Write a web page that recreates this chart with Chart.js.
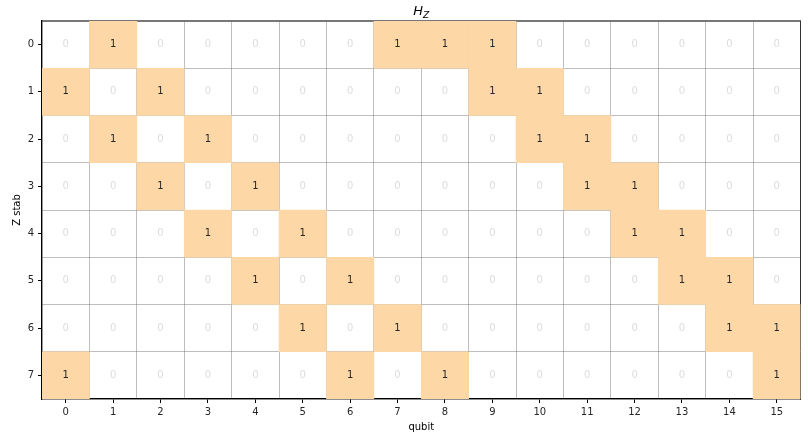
<!DOCTYPE html>
<html>
<head>
<meta charset="utf-8">
<script src="https://cdn.jsdelivr.net/npm/chart.js@4/dist/chart.umd.min.js"></script>
<style>
  html, body { margin: 0; padding: 0; background: #fff; }
  #wrap { width: 808px; height: 440px; position: relative; }
</style>
</head>
<body>
<div id="wrap"><canvas id="hz"></canvas></div>
<script>
// Parity-check matrix H_Z: one row per Z stabilizer, one column per qubit
const qubits = ['0','1','2','3','4','5','6','7','8','9','10','11','12','13','14','15'];
const stabs = [0, 1, 2, 3, 4, 5, 6, 7];

const hz0 = [0,1,0,0,0,0,0,1,1,1,0,0,0,0,0,0];
const hz1 = [1,0,1,0,0,0,0,0,0,1,1,0,0,0,0,0];
const hz2 = [0,1,0,1,0,0,0,0,0,0,1,1,0,0,0,0];
const hz3 = [0,0,1,0,1,0,0,0,0,0,0,1,1,0,0,0];
const hz4 = [0,0,0,1,0,1,0,0,0,0,0,0,1,1,0,0];
const hz5 = [0,0,0,0,1,0,1,0,0,0,0,0,0,1,1,0];
const hz6 = [0,0,0,0,0,1,0,1,0,0,0,0,0,0,1,1];
const hz7 = [1,0,0,0,0,0,1,0,1,0,0,0,0,0,0,1];
const hzRows = [hz0, hz1, hz2, hz3, hz4, hz5, hz6, hz7];

const ONE_FILL = '#fdd8a6';
const FONT = 'DejaVu Sans';

// each matrix entry is a floating bar spanning one row band in one qubit column
const datasets = stabs.map((s, r) => ({
  label: 'stab ' + s,
  data: qubits.map((q, c) => ({ x: q, y: [s - 0.5, s + 0.5], v: hzRows[r][c] })),
  backgroundColor: ctx => (ctx.raw && ctx.raw.v ? ONE_FILL : 'rgba(255,255,255,0)'),
  borderWidth: 0,
  grouped: false,
  barPercentage: 1,
  categoryPercentage: 1
}));

// writes each entry's value in the middle of its cell
const cellText = {
  id: 'cellText',
  afterDatasetsDraw(chart) {
    const ctx = chart.ctx;
    ctx.save();
    ctx.font = '10px "' + FONT + '"';
    ctx.textAlign = 'center';
    ctx.textBaseline = 'middle';
    chart.data.datasets.forEach((ds, di) => {
      const meta = chart.getDatasetMeta(di);
      meta.data.forEach((bar, i) => {
        const v = ds.data[i].v;
        ctx.fillStyle = v ? '#262626' : '#dcdcdc';
        ctx.fillText(String(v), bar.x, (bar.y + bar.base) / 2);
      });
    });
    ctx.restore();
  }
};

// italic title H with subscript Z, centred over the plot
const subTitle = {
  id: 'subTitle',
  afterDraw(chart) {
    const ctx = chart.ctx;
    const a = chart.chartArea;
    const cx = (a.left + a.right) / 2;
    ctx.save();
    ctx.fillStyle = '#000';
    ctx.textBaseline = 'alphabetic';
    ctx.font = 'italic 13px "' + FONT + '"';
    const wH = ctx.measureText('H').width;
    ctx.font = 'italic 9px "' + FONT + '"';
    const wZ = ctx.measureText('Z').width;
    const x0 = cx - (wH + wZ) / 2;
    ctx.font = 'italic 13px "' + FONT + '"';
    ctx.textAlign = 'left';
    ctx.fillText('H', x0, a.top - 6);
    ctx.font = 'italic 9px "' + FONT + '"';
    ctx.fillText('Z', x0 + wH, a.top - 3);
    ctx.restore();
  }
};

const intTicks = scale => { scale.ticks = stabs.map(v => ({ value: v })); };

new Chart(document.getElementById('hz'), {
  type: 'bar',
  data: { labels: qubits, datasets },
  plugins: [cellText, subTitle],
  options: {
    responsive: true,
    maintainAspectRatio: false,
    animation: false,
    layout: { padding: { top: 21, right: 7.5, left: 0, bottom: 0 } },
    plugins: { legend: { display: false }, tooltip: { enabled: false }, title: { display: false } },
    scales: {
      x: {
        type: 'category',
        position: 'bottom',
        offset: true,
        z: 1,
        grid: { offset: false, drawOnChartArea: false, drawTicks: true, tickLength: 4, tickColor: '#000', tickWidth: 1 },
        border: { display: true, color: '#000', width: 1.2 },
        ticks: { color: '#262626', font: { family: FONT, size: 10 }, padding: 3, maxRotation: 0, autoSkip: false },
        title: { display: true, text: 'qubit', color: '#000', font: { family: FONT, size: 10 }, padding: { top: 1, bottom: 7 } },
        afterFit: s => { s.height = 41; }
      },
      xg: {
        type: 'category',
        position: 'top',
        offset: true,
        z: 1,
        grid: { offset: true, drawOnChartArea: true, drawTicks: false, color: 'rgba(110,110,110,0.45)', lineWidth: 1 },
        border: { display: true, color: '#777', width: 2 },
        ticks: { display: false },
        afterFit: s => { s.height = 0; }
      },
      y: {
        type: 'linear',
        position: 'left',
        reverse: true,
        min: -0.5,
        max: 7.5,
        z: 1,
        afterBuildTicks: intTicks,
        grid: { drawOnChartArea: false, drawTicks: true, tickLength: 4, tickColor: '#000', tickWidth: 1 },
        border: { display: true, color: '#000', width: 1.2 },
        ticks: { color: '#262626', font: { family: FONT, size: 10 }, padding: 4 },
        title: { display: true, text: 'Z stab', color: '#000', font: { family: FONT, size: 10 }, padding: { top: 11, bottom: 2 } },
        afterFit: s => { s.width = 42; }
      },
      yg: {
        type: 'linear',
        position: 'right',
        reverse: true,
        min: -0.5,
        max: 7.5,
        z: 1,
        afterBuildTicks: intTicks,
        grid: { offset: true, drawOnChartArea: true, drawTicks: false, color: 'rgba(110,110,110,0.45)', lineWidth: 1 },
        border: { display: true, color: '#333', width: 1 },
        ticks: { display: false },
        afterFit: s => { s.width = 0; }
      }
    }
  }
});
</script>
</body>
</html>
